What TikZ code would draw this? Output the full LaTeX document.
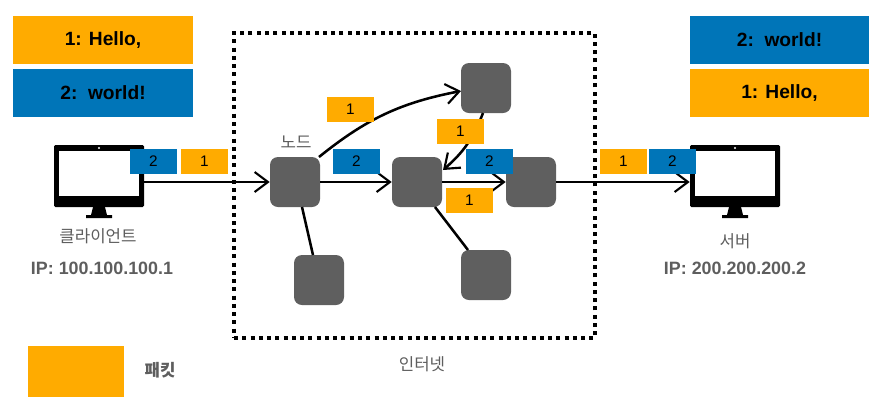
\documentclass[tikz,border=0pt]{standalone}
\usepackage{fontspec}
\setmainfont{Liberation Sans}
\newfontfamily\krfont{Noto Sans CJK KR}
\usetikzlibrary{arrows.meta}
\definecolor{pktorange}{HTML}{FFAB00}
\definecolor{pktblue}{HTML}{0075B8}
\definecolor{nodegray}{HTML}{5F5F5F}
\definecolor{labelgray}{HTML}{5E5E5E}

\begin{document}
\begin{tikzpicture}
  [x=.75pt,y=-.75pt,
   bigpkt/.style={minimum width=135pt,minimum height=36pt,inner sep=0pt,font=\bfseries\fontsize{14.4}{16}\selectfont},
   pkt/.style={minimum width=35.25pt,minimum height=18.75pt,inner sep=0pt,font=\fontsize{11.5}{13}\selectfont},
   router/.style={fill=nodegray,rounded corners=6pt,minimum size=37.5pt,inner sep=0pt},
   screen/.style={fill=white,minimum width=60pt,minimum height=33.75pt,inner sep=0pt},
   monitor/.style={fill=black,rounded corners=1pt,minimum width=67.5pt,minimum height=46.5pt,inner sep=0pt},
   krlabel/.style={text=labelgray,inner sep=0pt,font=\krfont\fontsize{12.6}{15}\selectfont},
   iplabel/.style={text=labelgray,inner sep=0pt,font=\bfseries\fontsize{13.4}{15}\selectfont},
   link/.style={line width=1.9pt},
   flow/.style={line width=1.9pt,-{Straight Barb[length=10pt,width=15pt,line width=1.6pt]}}]
  \useasboundingbox (0,0) rectangle (869,405);

  % internet frame
  \node [draw,line width=3pt,dash pattern=on 3pt off 3.2pt,minimum width=270.75pt,minimum height=228.75pt,inner sep=0pt] (internet) at (414.5,185.5) {};

  % computers
  \node [monitor] (client) at (99,176) {};
  \node [screen] (clientscreen) at (99,173.5) {};
  \node [monitor] (server) at (735,176) {};
  \node [screen] (serverscreen) at (735,173.5) {};
  \foreach \xc in {99,735} {
    \fill (\xc-6,207) -- (\xc+6,207) -- (\xc+8,215) -- (\xc+13,215) -- (\xc+13,218) -- (\xc-13,218) -- (\xc-13,215) -- (\xc-8,215) -- cycle;
    \fill [white] (\xc,148) circle (.8pt);
  }

  % routers
  \node [router] (n1) at (295,182) {};
  \node [router] (n2) at (417,182) {};
  \node [router] (n3) at (531,182) {};
  \node [router] (n4) at (486,88) {};
  \node [router] (n5) at (486,275) {};
  \node [router] (n6) at (319,280) {};

  \coordinate (n1out) at (319,157);
  \coordinate (n1down) at (302,207);
  \coordinate (n2down) at (435,207);
  \coordinate (n2in) at (443,170);
  \coordinate (n4in) at (461,91);
  \coordinate (n4out) at (483,113);
  \coordinate (n5in) at (468,250);
  \coordinate (n6in) at (313,255);

  % connectors
  \draw [flow] (client.east |- n1) -- (n1.west);
  \draw [flow] (n1) -- (n2.west);
  \draw [flow] (n2) -- (n3.west);
  \draw [flow] (n3) -- (server.west |- n3);
  \draw [flow] (n1out) to [bend left=14] (n4in);
  \draw [flow] (n4out) to [bend left=14] (n2in);
  \draw [link] (n1down) -- (n6in);
  \draw [link] (n2down) -- (n5in);

  % packets
  \node [pkt,fill=pktblue] (p1) at (153.5,161.5) {2};
  \node [pkt,fill=pktorange] (p2) at (204.5,161.5) {1};
  \node [pkt,fill=pktorange] (p3) at (350.5,109.5) {1};
  \node [pkt,fill=pktblue] (p4) at (356.5,161.5) {2};
  \node [pkt,fill=pktorange] (p5) at (460.5,131.5) {1};
  \node [pkt,fill=pktblue] (p6) at (489.5,161.5) {2};
  \node [pkt,fill=pktorange] (p7) at (469.5,200.5) {1};
  \node [pkt,fill=pktorange] (p8) at (623.5,161.5) {1};
  \node [pkt,fill=pktblue] (p9) at (672.5,161.5) {2};

  % messages
  \node [bigpkt,fill=pktorange] (m1) at (103,40) {1: Hello,};
  \node [bigpkt,fill=pktblue] (m2) at (103,93) {2:\ \ world!};
  \node [bigpkt,fill=pktblue] (m3) at (779.5,40) {2:\ \ world!};
  \node [bigpkt,fill=pktorange] (m4) at (779.5,93) {1: Hello,};

  % labels
  \node [krlabel] (n1label) at (296,142) {노드};
  \node [krlabel] (clientname) at (98,236) {클라이언트};
  \node [iplabel] (clientip) at (102,268) {IP: 100.100.100.1};
  \node [krlabel] (servername) at (735,241) {서버};
  \node [iplabel] (serverip) at (735,268) {IP: 200.200.200.2};
  \node [krlabel] (internetname) at (422,364) {인터넷};

  % legend
  \node [fill=pktorange,minimum width=72pt,minimum height=38.25pt,inner sep=0pt] (legend) at (76,371.5) {};
  \node [krlabel,font=\krfont\bfseries\fontsize{12.6}{15}\selectfont] (legendname) at (160,370) {패킷};
\end{tikzpicture}
\end{document}
